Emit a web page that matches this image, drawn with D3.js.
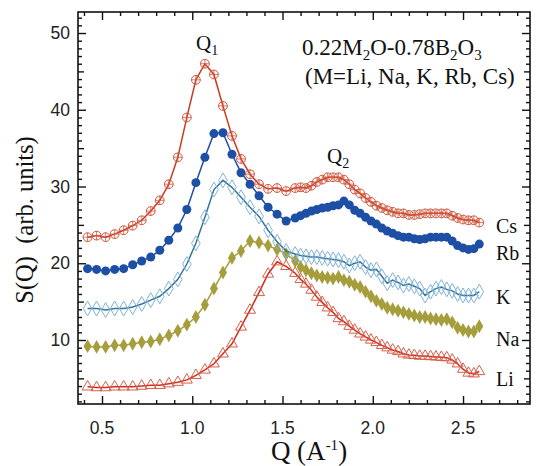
<!DOCTYPE html>
<html>
<head>
<meta charset="utf-8">
<script src="https://cdn.jsdelivr.net/npm/d3@7"></script>
<style>
  body { margin: 0; background: #fff; }
  .tick-label { font-family: "Liberation Sans", Arial, sans-serif; font-size: 17.5px; fill: #222; }
  .serif { font-family: "Liberation Serif", "Times New Roman", serif; fill: #111; }
</style>
</head>
<body>
<div id="chart"></div>
<script>
// Q grid (A^-1), shared by all series
const qValues = [
  0.42, 0.47, 0.52, 0.57, 0.62, 0.67, 0.72, 0.77, 0.82, 0.87, 0.92, 0.97,
  1.02, 1.07, 1.12, 1.17, 1.22, 1.27, 1.32, 1.37, 1.42, 1.47, 1.52, 1.57,
  1.60, 1.63, 1.66, 1.69, 1.72, 1.75, 1.78, 1.81, 1.84, 1.87, 1.90, 1.93,
  1.96, 1.99, 2.02, 2.05, 2.08, 2.11, 2.14, 2.17, 2.20, 2.23, 2.26, 2.29,
  2.32, 2.35, 2.38, 2.41, 2.44, 2.47, 2.50, 2.53, 2.56, 2.59
];

const csValues = [
  23.4, 23.6, 23.4, 23.8, 24.3, 24.9, 25.6, 26.8, 28.2, 30.3, 33.8, 39.0,
  43.9, 46.0, 44.6, 40.5, 36.6, 33.6, 31.6, 30.3, 29.7, 29.8, 29.4, 29.8,
  29.9, 29.8, 30.1, 30.6, 30.9, 31.2, 31.2, 31.2, 30.9, 30.3, 29.6, 29.1,
  28.5, 28.0, 27.5, 27.2, 26.9, 26.7, 26.5, 26.5, 26.3, 26.3, 26.4, 26.5,
  26.5, 26.5, 26.5, 26.5, 26.2, 25.9, 25.7, 25.6, 25.6, 25.3
];

const rbValues = [
  19.3, 19.2, 19.0, 19.2, 19.3, 19.8, 20.3, 20.8, 21.7, 23.0, 24.6, 27.0,
  30.5, 33.8, 36.9, 37.0, 34.2, 31.8, 30.3, 28.8, 27.3, 26.4, 25.5, 25.9,
  26.2, 26.5, 26.8, 27.0, 27.2, 27.3, 27.5, 27.6, 28.1, 27.6, 26.9, 26.5,
  26.0, 25.5, 25.1, 24.6, 24.2, 23.9, 23.6, 23.4, 23.4, 23.2, 23.1, 23.2,
  23.4, 23.4, 23.4, 23.4, 22.9, 22.3, 22.0, 21.8, 21.9, 22.5
];

const kValues = [
  14.1, 14.1, 13.9, 14.1, 14.1, 14.3, 14.7, 15.2, 15.7, 16.7, 17.9, 19.9,
  22.6, 26.0, 29.6, 30.8, 29.9, 28.6, 27.3, 26.1, 24.3, 22.8, 21.6, 21.2,
  21.0, 20.9, 20.8, 20.8, 20.7, 20.6, 20.5, 20.4, 20.2, 19.7, 20.0, 20.2,
  19.5, 19.1, 19.2, 18.3, 17.4, 17.8, 17.5, 17.1, 17.3, 17.0, 16.7, 15.8,
  16.3, 16.7, 16.9, 16.6, 16.4, 16.0, 15.8, 15.8, 15.8, 16.3
];

const naValues = [
  9.2, 9.1, 9.1, 9.3, 9.3, 9.5, 9.7, 9.8, 10.1, 10.6, 11.2, 12.0,
  13.0, 14.6, 16.7, 18.8, 20.7, 21.6, 22.9, 22.7, 22.3, 21.8, 21.2, 20.3,
  19.5, 19.1, 18.7, 18.4, 18.2, 18.1, 18.0, 18.2, 17.8, 17.6, 17.2, 16.9,
  16.3, 15.7, 15.1, 14.7, 14.2, 14.0, 13.8, 13.6, 13.4, 13.2, 13.0, 13.0,
  12.8, 12.7, 12.6, 12.7, 12.3, 11.6, 11.3, 11.1, 11.1, 11.8
];

const liValues = [
  3.9, 3.8, 3.8, 3.9, 3.9, 3.9, 4.0, 4.1, 4.1, 4.3, 4.5, 4.8,
  5.4, 6.1, 6.9, 8.2, 9.5, 11.7, 13.9, 16.2, 18.6, 20.2, 19.6, 18.7,
  17.9, 17.3, 16.5, 15.6, 14.9, 14.2, 13.6, 12.8, 12.4, 11.8, 11.3, 10.8,
  10.4, 10.0, 9.7, 9.3, 9.0, 8.7, 8.5, 8.2, 8.05, 8.0, 7.9, 7.9,
  7.85, 7.8, 7.75, 7.7, 7.4, 6.9, 6.2, 5.7, 5.6, 5.9
];

const seriesNames = ["Li", "Na", "K", "Rb", "Cs"];
const xTickValues = [0.5, 1.0, 1.5, 2.0, 2.5];
const yTickValues = [10, 20, 30, 40, 50];

const valuesByName = { Li: liValues, Na: naValues, K: kValues, Rb: rbValues, Cs: csValues };

// line colour, marker stroke, marker fill, marker type, label baseline
const styles = {
  Cs: { line: "#cc3a22", stroke: "#d0553c", fill: "none", marker: "circleCross", labelY: 233 },
  Rb: { line: "#1d4fa5", stroke: "#1d4fa5", fill: "#1d4fa5", marker: "circle", labelY: 260 },
  K:  { line: "#35739c", stroke: "#7fb3d6", fill: "none", marker: "diamond", labelY: 304 },
  Na: { line: "#a69e3c", stroke: "#a69e3c", fill: "#a69e3c", marker: "diamondFilled", labelY: 346 },
  Li: { line: "#d42a18", stroke: "#d4604c", fill: "none", marker: "triangle", labelY: 386 }
};

const width = 536, height = 466;
const frame = { left: 78, right: 530, top: 12, bottom: 404 };

const svg = d3.select("#chart").append("svg")
  .attr("width", width)
  .attr("height", height);

const xScale = d3.scaleLinear().domain([0.367, 2.871]).range([frame.left, frame.right]);
const yScale = d3.scaleLinear().domain([1.66, 52.74]).range([frame.bottom, frame.top]);

// Axes: ticks point inward on all four sides
const xMinor = d3.range(0.4, 2.87, 0.1).map(d => +d.toFixed(2));
const yMinor = d3.range(2, 53, 1);

const axes = svg.append("g");

const isMajorX = d => xTickValues.some(t => Math.abs(t - d) < 1e-6);
const yTickLen = d => (d % 10 === 0 ? 8 : d % 5 === 0 ? 6 : 4);

axes.append("g")
  .attr("transform", `translate(0,${frame.bottom})`)
  .call(d3.axisBottom(xScale).tickValues(xMinor).tickFormat("").tickSizeOuter(0)
    .tickSizeInner(0))
  .call(g => g.select(".domain").remove())
  .call(g => g.selectAll(".tick line").attr("y2", d => (isMajorX(d) ? -8 : -4))
    .attr("stroke", "#111").attr("stroke-width", 1.4));

axes.append("g")
  .attr("transform", `translate(0,${frame.top})`)
  .call(d3.axisTop(xScale).tickValues(xMinor).tickFormat("").tickSizeOuter(0).tickSizeInner(0))
  .call(g => g.select(".domain").remove())
  .call(g => g.selectAll(".tick line").attr("y2", d => (isMajorX(d) ? 8 : 4))
    .attr("stroke", "#111").attr("stroke-width", 1.4));

axes.append("g")
  .attr("transform", `translate(${frame.left},0)`)
  .call(d3.axisLeft(yScale).tickValues(yMinor).tickFormat("").tickSizeOuter(0).tickSizeInner(0))
  .call(g => g.select(".domain").remove())
  .call(g => g.selectAll(".tick line").attr("x2", d => yTickLen(d))
    .attr("stroke", "#111").attr("stroke-width", 1.4));

axes.append("g")
  .attr("transform", `translate(${frame.right},0)`)
  .call(d3.axisRight(yScale).tickValues(yMinor).tickFormat("").tickSizeOuter(0).tickSizeInner(0))
  .call(g => g.select(".domain").remove())
  .call(g => g.selectAll(".tick line").attr("x2", d => -yTickLen(d))
    .attr("stroke", "#111").attr("stroke-width", 1.4));

axes.append("rect")
  .attr("x", frame.left).attr("y", frame.top)
  .attr("width", frame.right - frame.left)
  .attr("height", frame.bottom - frame.top)
  .attr("fill", "none").attr("stroke", "#111").attr("stroke-width", 1.6);

// Tick labels
axes.selectAll(".x-label")
  .data(xTickValues)
  .join("text")
  .attr("class", "tick-label x-label")
  .attr("x", d => xScale(d))
  .attr("y", 434)
  .attr("text-anchor", "middle")
  .text(d3.format(".1f"));

axes.selectAll(".y-label")
  .data(yTickValues)
  .join("text")
  .attr("class", "tick-label y-label")
  .attr("x", 70)
  .attr("y", d => yScale(d) + 6)
  .attr("text-anchor", "end")
  .text(d => d);

// Axis titles
const xTitle = svg.append("text")
  .attr("class", "serif")
  .attr("x", 309).attr("y", 460)
  .attr("text-anchor", "middle")
  .style("font-size", "27px");
xTitle.append("tspan").text("Q (A");
xTitle.append("tspan").attr("dy", -10).style("font-size", "15px").text("-1");
xTitle.append("tspan").attr("dy", 10).text(")");

svg.append("text")
  .attr("class", "serif")
  .attr("transform", "translate(33,220) rotate(-90)")
  .attr("text-anchor", "middle")
  .style("font-size", "24.5px")
  .style("white-space", "pre")
  .text("S(Q)  (arb. units)");

// Lines and markers
const line = d3.line()
  .x((d, i) => xScale(qValues[i]))
  .y(d => yScale(d));

const marks = svg.append("g");

const diamond = d3.symbol().type(d3.symbolDiamond).size(64)();
const diamondFilled = d3.symbol().type(d3.symbolDiamond).size(56)();
const triangle = d3.symbol().type(d3.symbolTriangle).size(52)();

seriesNames.forEach(name => {
  const st = styles[name];
  const vals = valuesByName[name];
  const g = marks.append("g").attr("class", `series ${name}`);

  g.append("path")
    .attr("d", line(vals))
    .attr("fill", "none")
    .attr("stroke", st.line)
    .attr("stroke-width", 1.5);

  const pts = g.selectAll(".pt")
    .data(vals)
    .join("g")
    .attr("class", "pt")
    .attr("transform", (d, i) => `translate(${xScale(qValues[i])},${yScale(d)})`);

  if (st.marker === "circleCross") {
    pts.append("circle").attr("r", 4.4)
      .attr("fill", "none").attr("stroke", st.stroke).attr("stroke-width", 1);
    pts.append("path").attr("d", "M-4.4,0H4.4M0,-4.4V4.4")
      .attr("stroke", st.stroke).attr("stroke-width", 0.8);
  } else if (st.marker === "circle") {
    pts.append("circle").attr("r", 4.5).attr("fill", st.fill);
  } else if (st.marker === "diamond") {
    pts.append("path").attr("d", diamond)
      .attr("fill", "none").attr("stroke", st.stroke).attr("stroke-width", 1);
  } else if (st.marker === "diamondFilled") {
    pts.append("path").attr("d", diamondFilled).attr("fill", st.fill);
  } else if (st.marker === "triangle") {
    pts.append("path").attr("d", triangle)
      .attr("fill", "none").attr("stroke", st.stroke).attr("stroke-width", 1);
  }
});

// Series labels
svg.selectAll(".series-label")
  .data(seriesNames)
  .join("text")
  .attr("class", "serif series-label")
  .attr("x", 496)
  .attr("y", d => styles[d].labelY)
  .style("font-size", "20px")
  .text(d => d);

// Peak labels
function subLabel(x, y, main, sub) {
  const t = svg.append("text").attr("class", "serif")
    .attr("x", x).attr("y", y).style("font-size", "21px");
  t.append("tspan").text(main);
  t.append("tspan").attr("dy", 5).style("font-size", "14px").text(sub);
  return t;
}
subLabel(196, 50, "Q", "1");
subLabel(327, 163, "Q", "2");

// Composition annotation
const comp = svg.append("text").attr("class", "serif")
  .attr("x", 302).attr("y", 55).style("font-size", "23px");
[["0.22M", 0], ["2", 5], ["O-0.78B", -5], ["2", 5], ["O", -5], ["3", 5]].forEach(([txt, dy], i) => {
  const sub = i % 2 === 1;
  comp.append("tspan").attr("dy", dy).style("font-size", sub ? "15px" : "23px").text(txt);
});

svg.append("text").attr("class", "serif")
  .attr("x", 305).attr("y", 84)
  .style("font-size", "23px")
  .text("(M=Li, Na, K, Rb, Cs)");
</script>
</body>
</html>
